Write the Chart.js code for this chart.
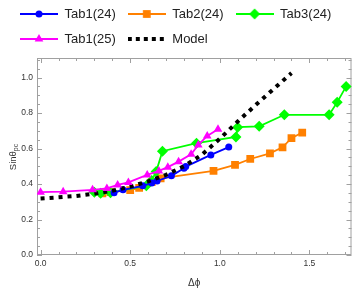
<!DOCTYPE html>
<html>
<head>
<meta charset="utf-8">
<script src="https://cdn.jsdelivr.net/npm/chart.js@4.4.1/dist/chart.umd.min.js"></script>
<style>
  html, body { margin: 0; padding: 0; background: #fff; }
  #wrap { width: 357px; height: 290px; }
</style>
</head>
<body>
<div id="wrap"><canvas id="chart" width="357" height="290"></canvas></div>
<script>
// data
const tab1_24_x = [0.41, 0.46, 0.57, 0.62, 0.65, 0.73, 0.80, 0.81, 0.95, 1.05];
const tab1_24_y = [0.351, 0.367, 0.39, 0.405, 0.417, 0.446, 0.489, 0.498, 0.564, 0.608];

const tab2_24_x = [0.345, 0.39, 0.50, 0.55, 0.62, 0.67, 0.965, 1.085, 1.17, 1.28, 1.35, 1.40, 1.46];
const tab2_24_y = [0.348, 0.354, 0.366, 0.378, 0.41, 0.432, 0.474, 0.508, 0.541, 0.573, 0.607, 0.658, 0.69];

const tab3_24_x = [0.30, 0.335, 0.39, 0.59, 0.62, 0.645, 0.68, 0.87, 1.09, 1.10, 1.22, 1.36, 1.61, 1.655, 1.705];
const tab3_24_y = [0.354, 0.348, 0.351, 0.39, 0.42, 0.47, 0.585, 0.63, 0.665, 0.72, 0.725, 0.79, 0.79, 0.86, 0.95];

const tab1_25_x = [0.00, 0.126, 0.29, 0.37, 0.43, 0.49, 0.595, 0.66, 0.71, 0.77, 0.84, 0.88, 0.93, 0.99];
const tab1_25_y = [0.354, 0.357, 0.367, 0.375, 0.395, 0.409, 0.451, 0.474, 0.495, 0.526, 0.568, 0.62, 0.671, 0.709];

const model_x = [0, 0.1, 0.2, 0.3, 0.4, 0.5, 0.6, 0.7, 0.8, 0.9, 1.0, 1.1, 1.2, 1.3, 1.4];
const model_y = [0.318, 0.325, 0.333, 0.345, 0.362, 0.385, 0.415, 0.452, 0.50, 0.565, 0.655, 0.752, 0.845, 0.935, 1.025];

const xTickValues = [0, 0.5, 1.0, 1.5];
const yTickValues = [0, 0.2, 0.4, 0.6, 0.8, 1.0];

const toPoints = (xs, ys) => xs.map((x, i) => ({ x: x, y: ys[i] }));

const FONT = '"Liberation Sans", Arial, sans-serif';

// little canvas with a line + marker, used as the legend symbol
function legendIcon(color, shape, radius, dashed) {
  const c = document.createElement('canvas');
  c.width = 38;
  c.height = 12;
  const g = c.getContext('2d');
  g.strokeStyle = color;
  g.fillStyle = color;
  g.lineWidth = dashed ? 4 : 2;
  if (dashed) g.setLineDash([4, 4]);
  g.beginPath();
  g.moveTo(0, 6);
  g.lineTo(38, 6);
  g.stroke();
  g.setLineDash([]);
  if (shape) {
    Chart.helpers.drawPoint(g, { pointStyle: shape, radius: radius, borderWidth: 0, rotation: 0 }, 19, 6);
  }
  return c;
}

// frame on all four sides with inward ticks, plus the y title with subscript
const framePlugin = {
  id: 'framePlugin',
  beforeDatasetsDraw(chart) {
    const { ctx, chartArea: a, scales } = chart;
    const x = scales.x, y = scales.y;
    ctx.save();
    ctx.strokeStyle = '#a0a0a0';
    ctx.lineWidth = 1;
    ctx.strokeRect(a.left + 0.5, a.top + 0.5, a.width - 1, a.height - 1);
    ctx.beginPath();
    for (let i = 0; i <= 17; i++) {
      const v = i / 10;
      const px = Math.round(x.getPixelForValue(v)) + 0.5;
      const len = i % 5 === 0 ? 5 : 3;
      ctx.moveTo(px, a.bottom);
      ctx.lineTo(px, a.bottom - len);
      ctx.moveTo(px, a.top);
      ctx.lineTo(px, a.top + len);
    }
    for (let i = 0; i <= 22; i++) {
      const v = i / 20;
      const py = Math.round(y.getPixelForValue(v)) + 0.5;
      const len = i % 4 === 0 ? 5 : 3;
      ctx.moveTo(a.left, py);
      ctx.lineTo(a.left + len, py);
      ctx.moveTo(a.right, py);
      ctx.lineTo(a.right - len, py);
    }
    ctx.stroke();
    ctx.restore();
  },
  afterDraw(chart) {
    const { ctx } = chart;
    ctx.save();
    ctx.translate(13, 157);
    ctx.rotate(-Math.PI / 2);
    ctx.fillStyle = '#333';
    ctx.textBaseline = 'middle';
    ctx.font = '9.5px ' + FONT;
    const main = 'Sin\u03b8';
    const w1 = ctx.measureText(main).width;
    ctx.font = '7px ' + FONT;
    const w2 = ctx.measureText('pc').width;
    const start = -(w1 + w2) / 2;
    ctx.font = '9.5px ' + FONT;
    ctx.textAlign = 'left';
    ctx.fillText(main, start, 0);
    ctx.font = '7px ' + FONT;
    ctx.fillText('pc', start + w1, 3);
    ctx.restore();
  }
};

const icons = [
  legendIcon('#0000ff', 'circle', 3.5, false),
  legendIcon('#ff8000', 'rect', 5.5, false),
  legendIcon('#00ff00', 'rectRot', 5.5, false),
  legendIcon('#ff00ff', 'triangle', 5, false),
  legendIcon('#000000', null, 0, true)
];

const ctx = document.getElementById('chart').getContext('2d');
new Chart(ctx, {
  type: 'line',
  data: {
    datasets: [
      {
        label: 'Tab1(24)',
        data: toPoints(tab1_24_x, tab1_24_y),
        borderColor: '#0000ff',
        backgroundColor: '#0000ff',
        borderWidth: 1.8,
        pointStyle: 'circle',
        pointRadius: 3.5,
        pointBorderWidth: 0,
        order: 2
      },
      {
        label: 'Tab2(24)',
        data: toPoints(tab2_24_x, tab2_24_y),
        borderColor: '#ff8000',
        backgroundColor: '#ff8000',
        borderWidth: 1.8,
        pointStyle: 'rect',
        pointRadius: 5.5,
        pointBorderWidth: 0,
        order: 4
      },
      {
        label: 'Tab3(24)',
        data: toPoints(tab3_24_x, tab3_24_y),
        borderColor: '#00ff00',
        backgroundColor: '#00ff00',
        borderWidth: 1.8,
        pointStyle: 'rectRot',
        pointRadius: 5.5,
        pointBorderWidth: 0,
        order: 3
      },
      {
        label: 'Tab1(25)',
        data: toPoints(tab1_25_x, tab1_25_y),
        borderColor: '#ff00ff',
        backgroundColor: '#ff00ff',
        borderWidth: 1.8,
        pointStyle: 'triangle',
        pointRadius: 5,
        pointBorderWidth: 0,
        order: 0
      },
      {
        label: 'Model',
        data: toPoints(model_x, model_y),
        borderColor: '#000000',
        backgroundColor: '#000000',
        borderWidth: 4,
        borderDash: [4, 5],
        borderCapStyle: 'butt',
        pointRadius: 0,
        order: 1
      }
    ]
  },
  options: {
    responsive: false,
    animation: false,
    events: [],
    layout: { padding: { top: -4.5, left: 8, right: 3, bottom: 0 } },
    plugins: {
      tooltip: { enabled: false },
      legend: {
        position: 'top',
        align: 'start',
        labels: {
          usePointStyle: true,
          pointStyleWidth: 38,
          padding: 12,
          color: '#222',
          font: { family: FONT, size: 13 },
          sort: (a, b) => a.datasetIndex - b.datasetIndex,
          generateLabels(chart) {
            const items = Chart.defaults.plugins.legend.labels.generateLabels(chart);
            items.forEach(it => { it.pointStyle = icons[it.datasetIndex]; });
            return items;
          }
        }
      }
    },
    scales: {
      x: {
        type: 'linear',
        position: 'bottom',
        min: -0.02,
        max: 1.735,
        afterFit(s) { s.height = 35; },
        afterBuildTicks(s) { s.ticks = xTickValues.map(v => ({ value: v })); },
        grid: { display: false, drawTicks: false },
        border: { display: false },
        ticks: {
          padding: 4,
          color: '#333',
          font: { family: FONT, size: 8.5 },
          maxRotation: 0,
          callback: v => v.toFixed(1)
        },
        title: {
          display: true,
          text: '\u0394\u03d5',
          color: '#333',
          font: { family: FONT, size: 10 },
          padding: { top: 4, bottom: 1 }
        }
      },
      xTop: {
        type: 'linear',
        axis: 'x',
        position: 'top',
        display: true,
        afterFit(s) { s.height = 2.5; },
        grid: { display: false, drawTicks: false },
        border: { display: false },
        ticks: { display: false }
      },
      y: {
        type: 'linear',
        min: 0,
        max: 1.11,
        afterFit(s) { s.width = 29; },
        afterBuildTicks(s) { s.ticks = yTickValues.map(v => ({ value: v })); },
        grid: { display: false, drawTicks: false },
        border: { display: false },
        ticks: {
          padding: 4,
          color: '#333',
          font: { family: FONT, size: 8.5 },
          callback: v => v.toFixed(1)
        }
      }
    }
  },
  plugins: [framePlugin]
});
</script>
</body>
</html>
